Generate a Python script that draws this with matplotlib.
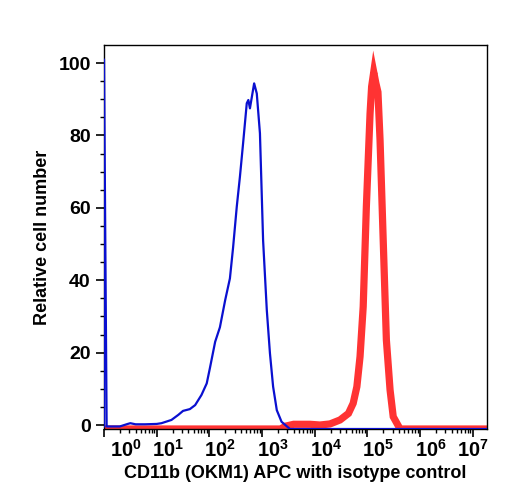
import numpy as np
import matplotlib
matplotlib.use("Agg")
import matplotlib.pyplot as plt
from matplotlib.ticker import FixedLocator, NullFormatter
from matplotlib.transforms import ScaledTranslation

plt.rcParams['font.family'] = ['Liberation Sans', 'DejaVu Sans']
plt.rcParams['font.weight'] = 'bold'
plt.rcParams['mathtext.fontset'] = 'custom'
plt.rcParams['mathtext.rm'] = 'Liberation Sans:bold'
plt.rcParams['mathtext.it'] = 'Liberation Sans:bold'
plt.rcParams['mathtext.bf'] = 'Liberation Sans:bold'

# isotype control (blue): log10 fluorescence exponent, relative count
iso_exp = [0.0, 0.0, 0.05, 0.3, 0.45, 0.5, 0.6, 0.78, 1.0, 1.09, 1.28, 1.41, 1.50, 1.63,
           1.73, 1.85, 1.95, 2.01, 2.11, 2.20, 2.30, 2.39, 2.45, 2.52, 2.58, 2.64,
           2.71, 2.74, 2.77, 2.85, 2.90, 2.96, 3.02, 3.09, 3.15, 3.21, 3.28, 3.37,
           3.53, 7.27]
iso_cnt = [-0.4, 101, -0.4, -0.4, 0.3, 0.5, 0.2, 0.2, 0.3, 0.5, 1.4, 2.8, 3.9, 4.4,
           5.5, 8.3, 11.5, 15.7, 23, 27, 34.5, 40.5, 49, 60.3, 68.6, 77.8,
           88.9, 89.8, 87.5, 94.4, 91.6, 80.6, 51, 31.8, 19.8, 10.6, 4.1, 0.9,
           -1.1, -1.1]

# CD11b (OKM1) APC stained (red)
cd_exp = [0.0, 3.35, 3.45, 3.6, 3.91, 4.10, 4.29, 4.48, 4.64, 4.73, 4.80, 4.86,
          4.92, 4.98, 5.05, 5.08, 5.12, 5.16, 5.20, 5.24, 5.30, 5.36, 5.43,
          5.49, 5.62, 7.27]
cd_cnt = [-1.1, -1.1, -0.3, 0.2, 0.2, 0.0, 0.3, 1.4, 3.2, 6, 10.6, 18.9,
          32.7, 60.3, 86, 93.5, 97.5, 94.5, 92, 78.7, 51, 23.5, 9.7,
          2.3, -1.1, -1.1]

xticks_exp = [0, 1, 2, 3, 4, 5, 6, 7]
yticks = [0, 20, 40, 60, 80, 100]

fig = plt.figure(figsize=(5.08, 5.0), dpi=100)
ax = fig.add_axes([104/508, 1-429/500, (487-104)/508, (429-45)/500])

ax.plot(10**np.array(cd_exp), cd_cnt, color='#ff3333', lw=5.2, solid_joinstyle='miter', zorder=2)
ax.plot(10**np.array(iso_exp), iso_cnt, color='#0a10d0', lw=1.6, zorder=3)

ax.set_xscale('log')
ax.set_xlim(1, 10**7.27)
ax.set_ylim(-1.1, 105)

ax.xaxis.set_major_locator(FixedLocator([10.0**e for e in xticks_exp]))
ax.set_xticklabels([r'$10^{%d}$' % e for e in xticks_exp])
minor = [m * 10.0**e for e in range(0, 8) for m in range(2, 10) if m * 10.0**e < 10**7.27]
ax.xaxis.set_minor_locator(FixedLocator(minor))
ax.xaxis.set_minor_formatter(NullFormatter())

ax.set_yticks(yticks)
ax.yaxis.set_minor_locator(FixedLocator(list(range(0, 105, 5))))

ax.tick_params(axis='both', which='major', width=1.2, length=6, direction='out')
ax.tick_params(axis='y', which='major', labelsize=14)
ax.tick_params(axis='x', which='major', labelsize=14.5, pad=1)
ax.tick_params(axis='both', which='minor', width=1.0, length=3, direction='out')

for s in ax.spines.values():
    s.set_linewidth(1.0)

labels = ax.get_xticklabels()
offsets = [6] + [-5] * (len(labels) - 2) + [-16]
for lab, off in zip(labels, offsets):
    lab.set_horizontalalignment('left')
    lab.set_transform(lab.get_transform() + ScaledTranslation(off/100, 0, fig.dpi_scale_trans))

ax.set_xlabel('CD11b (OKM1) APC with isotype control', fontsize=13, fontweight='bold', labelpad=3)
ax.set_ylabel('Relative cell number', fontsize=13, fontweight='bold', labelpad=5)

fig.savefig('out.png', dpi=100)
